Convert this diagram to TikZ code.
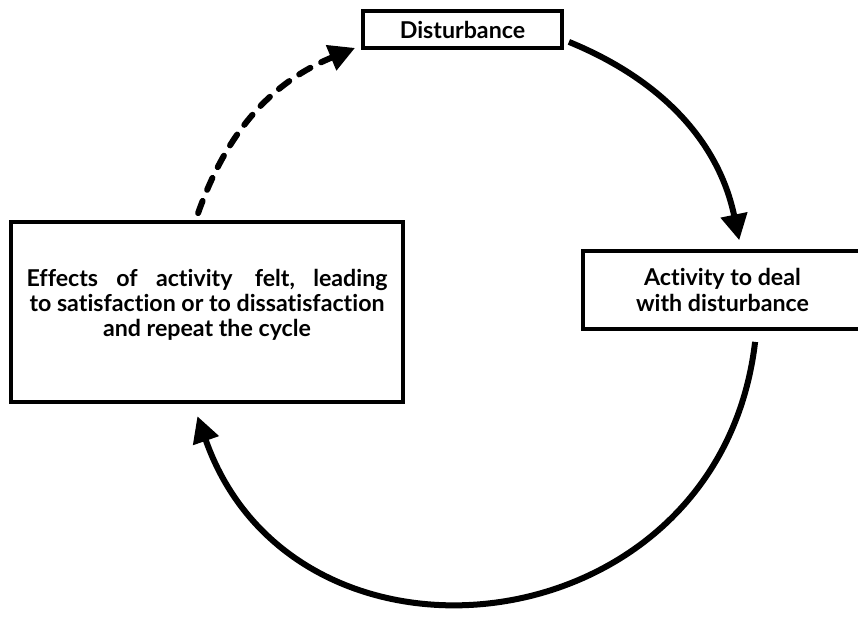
\documentclass[tikz,border=0pt]{standalone}
\usepackage{fontspec}
\setmainfont{Lato}[Ligatures=NoCommon]
\usetikzlibrary{arrows.meta}
\begin{document}
\begin{tikzpicture}
        [x=0.5pt,y=-0.5pt,
        every node/.style={font=\bfseries\fontsize{11.6}{12.6}\selectfont},
        boxnode/.style={draw=black,line width=1.9pt,inner sep=0pt},
        cyclearrow/.style={-{Triangle[length=13pt,width=13pt]},line width=3pt},
        dashedarrow/.style={cyclearrow,dash pattern=on 6.5pt off 6pt,line cap=round}]
        \useasboundingbox (0,0) rectangle (858,619);
        % boxes of the cycle
        \node[boxnode,minimum width=99.5pt,minimum height=18.5pt] (dist) at (462.5,29.5) {Disturbance};
        \node[boxnode,minimum width=139.5pt,minimum height=39pt,align=center] (act) at (722.5,290)
          {Activity to deal\\with disturbance};
        \node[boxnode,minimum width=196pt,minimum height=90pt] (effects) at (207,312) {};
        \node[align=center,inner sep=0pt] (effectstxt) at ([yshift=3.5pt]effects.center)
          {\hbox to 180.5pt{Effects\hfill of\hfill activity\hfill\hspace{2pt}felt,\hfill leading}\\
           to satisfaction or to dissatisfaction\\
           and repeat the cycle};
        % arrows round the circle
        \draw[cyclearrow,shorten >=4.5pt] ([shift={(5,-8)}]dist.south east)
          to[bend left=28] ([shift={(160,0)}]act.north west);
        \draw[cyclearrow,shorten >=6.5pt] ([shift={(174,11)}]act.south west)
          to[bend left=77,looseness=1.4] ([shift={(184,0)}]effects.south west);
        \draw[dashedarrow] ([shift={(189,-7)}]effects.north west)
          to[bend left=24] ([shift={(-6,-2)}]dist.south west);
      \end{tikzpicture}
\end{document}
